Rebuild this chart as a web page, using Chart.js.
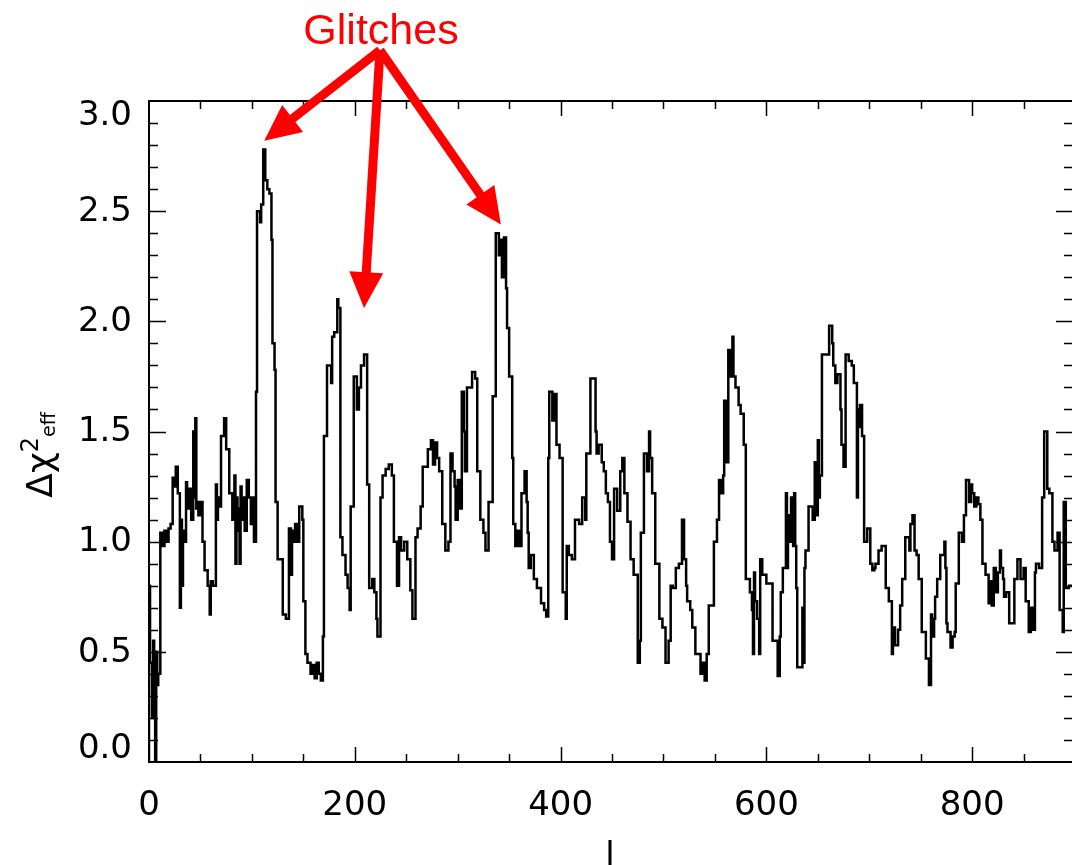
<!DOCTYPE html>
<html>
<head>
<meta charset="utf-8">
<script src="https://cdn.jsdelivr.net/npm/chart.js@4.4.0/dist/chart.umd.min.js"></script>
<style>
  html, body { margin: 0; padding: 0; background: #fff; overflow: hidden; }
  #wrap { width: 1076px; height: 865px; }
</style>
</head>
<body>
<div id="wrap"><canvas id="chart"></canvas></div>
<script>
// multipole bin start (l) and the step value of delta chi^2_eff
const binStart = [
  0, 1, 3, 4, 5, 6, 7, 8, 9, 11, 13, 15, 17, 19, 21, 23, 24, 26, 28, 30,
  31, 32, 33, 34, 36, 37, 39, 41, 43, 44, 45, 46, 47, 48, 50, 52, 54, 57, 59, 60,
  62, 65, 66, 67, 68, 70, 73, 75, 78, 81, 83, 84, 85, 86, 87, 88, 89, 90, 91, 93,
  95, 97, 99, 100, 102, 104, 105, 108, 109, 111, 113, 115, 117, 119, 120, 122, 123, 125, 130, 133,
  136, 138, 139, 140, 142, 144, 146, 149, 150, 152, 154, 157, 159, 161, 163, 165, 167, 169, 170, 173,
  177, 178, 180, 183, 184, 186, 188, 191, 193, 195, 196, 199, 202, 204, 206, 209, 212, 214, 217, 219,
  221, 222, 225, 227, 230, 233, 236, 238, 241, 243, 245, 248, 251, 254, 256, 259, 261, 264, 266, 271,
  274, 276, 278, 280, 282, 285, 288, 291, 293, 295, 297, 298, 300, 302, 304, 306, 307, 309, 314, 317,
  319, 322, 325, 327, 330, 334, 337, 340, 341, 343, 345, 347, 348, 350, 353, 354, 356, 358, 360, 362,
  365, 367, 368, 369, 371, 374, 377, 381, 384, 386, 388, 389, 392, 394, 396, 399, 402, 405, 406, 408,
  411, 414, 418, 421, 424, 425, 429, 434, 435, 437, 440, 442, 444, 446, 448, 450, 452, 455, 458, 460,
  462, 465, 468, 471, 475, 477, 478, 481, 484, 486, 487, 489, 492, 496, 499, 502, 505, 507, 509, 512,
  515, 518, 520, 522, 523, 526, 528, 531, 536, 538, 540, 542, 544, 549, 552, 554, 556, 558, 559, 561,
  563, 565, 567, 568, 570, 573, 575, 578, 580, 584, 586, 587, 588, 589, 591, 593, 594, 596, 598, 600,
  603, 606, 608, 611, 613, 614, 616, 619, 620, 621, 622, 624, 625, 626, 627, 628, 629, 630, 635, 636,
  637, 638, 641, 645, 647, 649, 650, 651, 652, 654, 661, 664, 665, 667, 669, 672, 673, 675, 677, 680,
  683, 685, 687, 688, 689, 690, 691, 693, 695, 698, 701, 703, 705, 706, 709, 712, 716, 719, 722, 723,
  725, 728, 730, 732, 735, 739, 740, 742, 744, 746, 748, 751, 755, 758, 760, 761, 763, 764, 766, 769,
  773, 774, 775, 776, 779, 781, 783, 784, 787, 790, 792, 794, 797, 799, 800, 802, 804, 806, 808, 810,
  813, 816, 818, 819, 821, 823, 825, 827, 828, 830, 831, 833, 836, 841, 844, 847, 850, 852, 854, 855,
  857, 859, 861, 862, 865, 868, 870, 873, 875, 878, 880, 883, 885, 888, 889, 891, 894, 896, 898
];
const deltaChi2 = [
  0.0, 0.8, 0.45, 0.2, 0.55, 0.3, 0.0, 0.5, 0.35, 0.4, 1.04, 0.98, 1.05, 1.0, 1.06, 1.08, 1.29, 1.25, 1.34, 1.22,
  0.7, 1.1, 0.8, 1.05, 1.0, 1.27, 1.15, 1.24, 1.1, 1.5, 1.2, 1.56, 1.15, 1.18, 1.12, 1.18, 1.0, 0.87, 0.8, 0.67,
  0.82, 0.8, 1.26, 1.1, 1.2, 1.16, 1.48, 1.56, 1.42, 1.22, 1.1, 1.3, 0.9, 1.2, 1.05, 1.15, 0.9, 1.25, 1.1, 1.2,
  1.05, 1.28, 1.2, 1.08, 1.2, 1.0, 1.68, 2.5, 2.45, 2.53, 2.78, 2.64, 2.6, 2.58, 2.37, 1.9, 1.78, 1.18, 0.92, 0.67,
  0.65, 1.06, 0.85, 1.05, 1.0, 1.08, 1.0, 1.16, 1.1, 0.73, 0.49, 0.45, 0.4, 0.44, 0.38, 0.45, 0.4, 0.37, 0.57, 1.48,
  1.8, 1.72, 1.93, 1.95, 2.1, 2.06, 1.02, 0.94, 0.85, 0.79, 0.69, 1.16, 1.75, 1.6, 1.7, 1.8, 1.85, 1.26, 0.79, 0.83,
  0.77, 0.65, 0.57, 1.2, 1.3, 1.33, 1.35, 1.3, 1.0, 0.8, 1.02, 0.96, 1.0, 0.92, 0.78, 0.65, 1.02, 1.06, 1.16, 1.34,
  1.42, 1.46, 1.35, 1.45, 1.38, 1.32, 1.08, 0.96, 1.0, 1.4, 1.32, 1.25, 1.1, 1.28, 1.15, 1.68, 1.5, 1.32, 1.7, 1.77,
  1.74, 1.32, 1.1, 1.04, 0.96, 1.18, 1.66, 2.4, 2.3, 2.37, 2.2, 2.38, 2.15, 1.97, 1.75, 1.38, 1.08, 0.98, 1.05, 0.98,
  1.22, 1.32, 1.18, 1.04, 0.88, 0.94, 0.83, 0.79, 0.72, 0.69, 0.66, 1.38, 1.68, 1.55, 1.67, 1.44, 1.38, 0.77, 0.65, 0.98,
  0.94, 0.92, 1.1, 1.08, 1.2, 1.1, 1.4, 1.74, 1.5, 1.4, 1.44, 1.36, 1.32, 1.22, 1.18, 1.0, 0.92, 1.24, 1.14, 1.32,
  1.38, 1.22, 1.09, 0.92, 0.85, 0.45, 0.55, 1.04, 1.4, 1.32, 1.5, 1.38, 1.22, 0.9, 0.65, 0.61, 0.45, 0.55, 0.8, 0.79,
  0.88, 0.9, 1.1, 0.92, 0.8, 0.73, 0.69, 0.61, 0.49, 0.4, 0.45, 0.37, 0.49, 0.71, 1.0, 1.1, 1.28, 1.22, 1.3, 1.64,
  1.36, 1.87, 1.75, 1.93, 1.75, 1.7, 1.62, 1.58, 1.44, 0.83, 0.77, 0.69, 0.49, 0.86, 0.73, 0.65, 0.49, 0.92, 0.85, 0.85,
  0.81, 0.81, 0.55, 0.55, 0.39, 0.57, 0.77, 0.88, 1.22, 0.88, 1.12, 1.0, 1.2, 1.05, 0.98, 1.22, 0.98, 0.79, 0.43, 0.7,
  0.45, 0.88, 0.96, 1.16, 1.1, 1.36, 1.12, 1.46, 1.2, 1.3, 1.85, 1.98, 1.9, 1.8, 1.72, 1.76, 1.6, 1.44, 1.34, 1.85,
  1.82, 1.8, 1.72, 1.72, 1.2, 1.6, 1.52, 1.62, 1.48, 1.0, 1.06, 0.9, 0.87, 0.88, 0.9, 0.96, 0.98, 0.79, 0.73, 0.49,
  0.61, 0.53, 0.6, 0.71, 0.83, 1.02, 0.96, 1.08, 1.12, 0.96, 0.94, 0.83, 0.59, 0.47, 0.35, 0.67, 0.57, 0.65, 0.75, 0.83,
  0.94, 1.0, 0.88, 0.63, 0.59, 0.52, 0.57, 0.59, 0.81, 1.04, 1.0, 1.12, 1.28, 1.18, 1.26, 1.22, 1.16, 1.2, 1.17, 1.1,
  0.9, 0.85, 0.72, 0.82, 0.71, 0.88, 0.77, 0.86, 0.96, 0.88, 0.83, 0.75, 0.77, 0.63, 0.83, 0.92, 0.83, 0.88, 0.73, 0.73,
  0.59, 0.7, 0.6, 0.86, 0.9, 0.88, 1.2, 1.5, 1.24, 1.22, 1.0, 0.96, 1.04, 0.69, 0.59, 1.18, 0.79, 0.8, 0.8
];

const xTickValues = [0, 200, 400, 600, 800];
const yTickValues = [0.0, 0.5, 1.0, 1.5, 2.0, 2.5, 3.0];
const yTickLabels = ['0.0', '0.5', '1.0', '1.5', '2.0', '2.5', '3.0'];

// annotation: arrow origin and the three glitch peaks it points to (data coords)
const glitchLabel = 'Glitches';
const glitchOrigin = [224.5, 3.23];
const glitchTips = [[112, 2.82], [209, 2.06], [342, 2.44]];

const FONT = '"DejaVu Sans", sans-serif';

function drawArrow(ctx, x0, y0, x1, y1) {
  const ang = Math.atan2(y1 - y0, x1 - x0);
  const headLen = 36, headW = 17;
  const bx = x1 - headLen * Math.cos(ang), by = y1 - headLen * Math.sin(ang);
  ctx.beginPath();
  ctx.moveTo(x0, y0);
  ctx.lineTo(bx + 2 * Math.cos(ang), by + 2 * Math.sin(ang));
  ctx.stroke();
  ctx.beginPath();
  ctx.moveTo(x1, y1);
  ctx.lineTo(bx + headW * Math.sin(ang), by - headW * Math.cos(ang));
  ctx.lineTo(bx - headW * Math.sin(ang), by + headW * Math.cos(ang));
  ctx.closePath();
  ctx.fill();
}

const axesFrame = {
  id: 'axesFrame',
  afterDraw(chart) {
    const { ctx, chartArea: a, scales: { x, y } } = chart;
    ctx.save();
    ctx.strokeStyle = '#000';
    ctx.lineWidth = 2;
    ctx.beginPath();
    ctx.moveTo(a.left, a.top); ctx.lineTo(a.left, a.bottom);
    ctx.lineTo(a.right, a.bottom); ctx.lineTo(a.right, a.top);
    ctx.closePath();
    ctx.stroke();

    // x ticks every 50, major at label positions (inward, top and bottom)
    ctx.lineWidth = 1.5;
    for (let v = 50; v < x.max; v += 50) {
      const px = Math.round(x.getPixelForValue(v)) + 0.5;
      const len = v % 200 === 0 ? 15 : 8;
      ctx.beginPath();
      ctx.moveTo(px, a.bottom); ctx.lineTo(px, a.bottom - len);
      ctx.moveTo(px, a.top); ctx.lineTo(px, a.top + len);
      ctx.stroke();
    }
    // y ticks every 0.1, major every 0.5 (left and right)
    for (let i = 1; i < 30; i++) {
      const py = Math.round(y.getPixelForValue(i / 10)) + 0.5;
      const len = i % 5 === 0 ? 17 : 9;
      ctx.beginPath();
      ctx.moveTo(a.left, py); ctx.lineTo(a.left + len, py);
      ctx.moveTo(a.right, py); ctx.lineTo(a.right - len, py);
      ctx.stroke();
    }

    // tick labels
    ctx.fillStyle = '#000';
    ctx.font = '34px ' + FONT;
    ctx.textAlign = 'center';
    ctx.textBaseline = 'alphabetic';
    xTickValues.forEach(v => ctx.fillText(String(v), x.getPixelForValue(v), 815));
    ctx.textAlign = 'right';
    ctx.textBaseline = 'middle';
    yTickValues.forEach((v, i) => {
      let py = y.getPixelForValue(v);
      py = Math.min(Math.max(py, a.top + 14), a.bottom - 14);
      ctx.fillText(yTickLabels[i], a.left - 17, py + 1);
    });

    // axis titles
    ctx.textAlign = 'center';
    ctx.textBaseline = 'alphabetic';
    ctx.fillText('l', (a.left + a.right) / 2 - 1, 866);

    ctx.save();
    ctx.translate(52, 455);
    ctx.rotate(-Math.PI / 2);
    ctx.textAlign = 'left';
    ctx.font = '36px ' + FONT;
    const base = 'Δχ';
    const wBase = ctx.measureText(base).width;
    ctx.font = '24px ' + FONT;
    const wSup = ctx.measureText('2').width;
    ctx.font = '19px ' + FONT;
    const wSub = ctx.measureText('eff').width;
    let cx = -(wBase + wSup + wSub) / 2;
    ctx.font = '36px ' + FONT;
    ctx.fillText(base, cx, 0); cx += wBase;
    ctx.font = '24px ' + FONT;
    ctx.fillText('2', cx, -14); cx += wSup;
    ctx.font = '19px ' + FONT;
    ctx.fillText('eff', cx, 3);
    ctx.restore();

    // glitch annotation
    ctx.fillStyle = '#ff0000';
    ctx.strokeStyle = '#ff0000';
    ctx.font = '43px "Liberation Sans", Arial, sans-serif';
    ctx.textAlign = 'center';
    ctx.fillText(glitchLabel, 381, 44);
    ctx.lineWidth = 9;
    ctx.lineCap = 'butt';
    const ox = x.getPixelForValue(glitchOrigin[0]), oy = y.getPixelForValue(glitchOrigin[1]);
    glitchTips.forEach(([tx, ty]) => {
      drawArrow(ctx, ox, oy, x.getPixelForValue(tx), y.getPixelForValue(ty));
    });
    ctx.restore();
  }
};

new Chart(document.getElementById('chart'), {
  type: 'line',
  data: {
    datasets: [{
      data: binStart.map((l, i) => ({ x: l, y: deltaChi2[i] })),
      stepped: 'after',
      borderColor: '#000',
      borderWidth: 2.5,
      pointRadius: 0,
      fill: false
    }]
  },
  options: {
    responsive: true,
    maintainAspectRatio: false,
    animation: false,
    layout: { padding: { left: 149, top: 101, right: 3, bottom: 103 } },
    scales: {
      x: { type: 'linear', min: 0, max: 898, display: false },
      y: { type: 'linear', min: 0, max: 3, display: false }
    },
    plugins: { legend: { display: false }, tooltip: { enabled: false } }
  },
  plugins: [axesFrame]
});
</script>
</body>
</html>
